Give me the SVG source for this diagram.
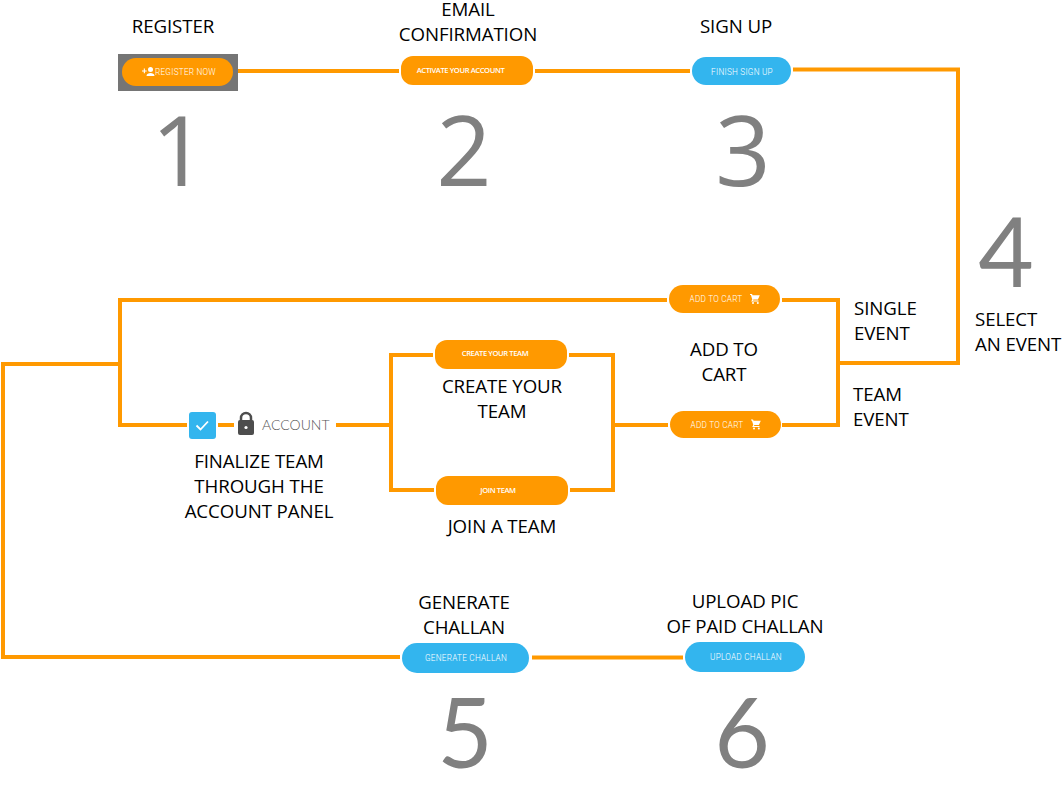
<svg xmlns="http://www.w3.org/2000/svg" width="1063" height="794" viewBox="0 0 1063 794">
<defs>
<style>
.c{fill:none;stroke:#ff9900;stroke-width:4;stroke-linejoin:miter}
.o{fill:#ff9900}
.b{fill:#33b5ee}
.t{font-family:"Open Sans","Noto Sans",sans-serif;font-size:18.700px;fill:#000;text-anchor:middle;letter-spacing:-.1px}
.n{font-family:"Open Sans","Noto Sans",sans-serif;font-size:97px;font-weight:400;fill:#808080;text-anchor:middle}
.m{font-family:Lato,"Open Sans",sans-serif;font-size:96px;font-weight:400;fill:#808080;text-anchor:middle}
.p{font-family:"Roboto","Open Sans",sans-serif;font-size:8.200px;font-weight:300;fill:#fff;text-anchor:middle;letter-spacing:.25px}
.q{font-family:"Open Sans","Noto Sans",sans-serif;font-size:7.600px;font-weight:600;fill:#fff;text-anchor:middle;letter-spacing:-.4px}
</style>
<g id="cart"><path fill="#fff" d="M0 0h2l.6 1.300h7.200l-1.900 4.200H3.400l-.5 1h5.600v1.100H1.200l1.100-2.100L.9 1.100H0z"/><circle cx="3" cy="9" r="1" fill="#fff"/><circle cx="7.800" cy="9" r="1" fill="#fff"/></g>
</defs>
<rect width="1063" height="794" fill="#fff"/>
<g id="connectors">
<path class="c" d="M238 71H399"/>
<path class="c" d="M535 71H690"/>
<path class="c" d="M793 69.500H958V363H838"/>
<path class="c" d="M782 300H838V425H782"/>
<path class="c" d="M667 300H120V425H187"/>
<path class="c" d="M120 364H3V657H400"/>
<path class="c" d="M218 425H234"/>
<path class="c" d="M336 425H391"/>
<path class="c" d="M433 355H391V490H434"/>
<path class="c" d="M569 355H613V490H570"/>
<path class="c" d="M615 425H668"/>
<path class="c" d="M532 657.500H683"/>
</g>
<g id="node-register">
<text class="t" x="173" y="33">REGISTER</text>
<rect x="118" y="54" width="120" height="37" fill="#757575"/>
<rect class="o" x="122" y="58" width="111" height="28" rx="14"/>
<path fill="#fff" d="M142 70.400h1.800v-1.800h1.100v1.800h1.800v1.100h-1.800v1.800h-1.100v-1.800H142z"/>
<circle cx="150.500" cy="69.500" r="2.500" fill="#fff"/>
<path fill="#fff" d="M146.500 76c0-2.200 2.200-3 4-3s4 .8 4 3z"/>
<text class="p" x="185.500" y="74.500">REGISTER NOW</text>
<text class="n" x="179" y="186">1</text>
</g>
<g id="node-email">
<text class="t" x="468" y="16">EMAIL</text>
<text class="t" x="468" y="41">CONFIRMATION</text>
<rect class="o" x="401" y="56" width="132" height="29" rx="12"/>
<text class="q" x="460.500" y="72.500">ACTIVATE YOUR ACCOUNT</text>
<text class="n" x="464" y="186">2</text>
</g>
<g id="node-signup">
<text class="t" x="736" y="33">SIGN UP</text>
<rect class="b" x="692" y="57" width="99" height="28" rx="14"/>
<text class="p" x="742" y="74.500">FINISH SIGN UP</text>
<text class="n" x="743" y="186">3</text>
</g>
<g id="node-select">
<text class="m" x="1006" y="287">4</text>
<text class="t" x="975" y="326" style="text-anchor:start">SELECT</text>
<text class="t" x="975" y="351" style="text-anchor:start">AN EVENT</text>
<text class="t" x="854" y="315" style="text-anchor:start">SINGLE</text>
<text class="t" x="854" y="340" style="text-anchor:start">EVENT</text>
<text class="t" x="853" y="401" style="text-anchor:start">TEAM</text>
<text class="t" x="853" y="426" style="text-anchor:start">EVENT</text>
</g>
<g id="node-cart-single">
<rect class="o" x="669" y="285" width="111" height="28" rx="14"/>
<text class="p" x="716" y="302">ADD TO CART</text>
<use href="#cart" x="750" y="294"/>
</g>
<g id="node-cart-team">
<text class="t" x="724" y="356">ADD TO</text>
<text class="t" x="724" y="381">CART</text>
<rect class="o" x="670" y="411" width="111" height="27" rx="13.500"/>
<text class="p" x="717" y="427.500">ADD TO CART</text>
<use href="#cart" x="751" y="419.500"/>
</g>
<g id="node-create-team">
<rect class="o" x="435" y="340" width="132" height="29" rx="12"/>
<text class="q" x="495" y="356">CREATE YOUR TEAM</text>
<text class="t" x="502" y="393">CREATE YOUR</text>
<text class="t" x="502" y="418">TEAM</text>
</g>
<g id="node-join-team">
<rect class="o" x="436" y="476" width="132" height="29" rx="12"/>
<text class="q" x="498" y="493">JOIN TEAM</text>
<text class="t" x="502" y="533">JOIN A TEAM</text>
</g>
<g id="node-account">
<rect class="b" x="189" y="412" width="27" height="27" rx="3"/>
<path d="M196.500 425.500l4 4 7.500-8" fill="none" stroke="#fff" stroke-width="1.800"/>
<path fill="none" stroke="#4d4d4d" stroke-width="2.500" d="M241 421v-3a5 5 0 0 1 10 0v3"/>
<rect x="238" y="420" width="16" height="15" rx="2" fill="#4d4d4d"/>
<circle cx="246" cy="427.500" r="1.600" fill="#fff"/>
<text x="262" y="430" font-family="Lato,'Open Sans',sans-serif" font-size="14" font-weight="300" fill="#555">ACCOUNT</text>
<text class="t" x="259" y="468">FINALIZE TEAM</text>
<text class="t" x="259" y="493">THROUGH THE</text>
<text class="t" x="259" y="518">ACCOUNT PANEL</text>
</g>
<g id="node-generate">
<text class="t" x="464" y="609">GENERATE</text>
<text class="t" x="464" y="634">CHALLAN</text>
<rect class="b" x="402" y="643" width="127" height="30" rx="15"/>
<text class="p" x="466" y="661">GENERATE CHALLAN</text>
<text class="m" x="465" y="768">5</text>
</g>
<g id="node-upload">
<text class="t" x="745" y="608">UPLOAD PIC</text>
<text class="t" x="745" y="633">OF PAID CHALLAN</text>
<rect class="b" x="685" y="642" width="120" height="30" rx="15"/>
<text class="p" x="746" y="660">UPLOAD CHALLAN</text>
<text class="m" x="742" y="768">6</text>
</g>
</svg>
